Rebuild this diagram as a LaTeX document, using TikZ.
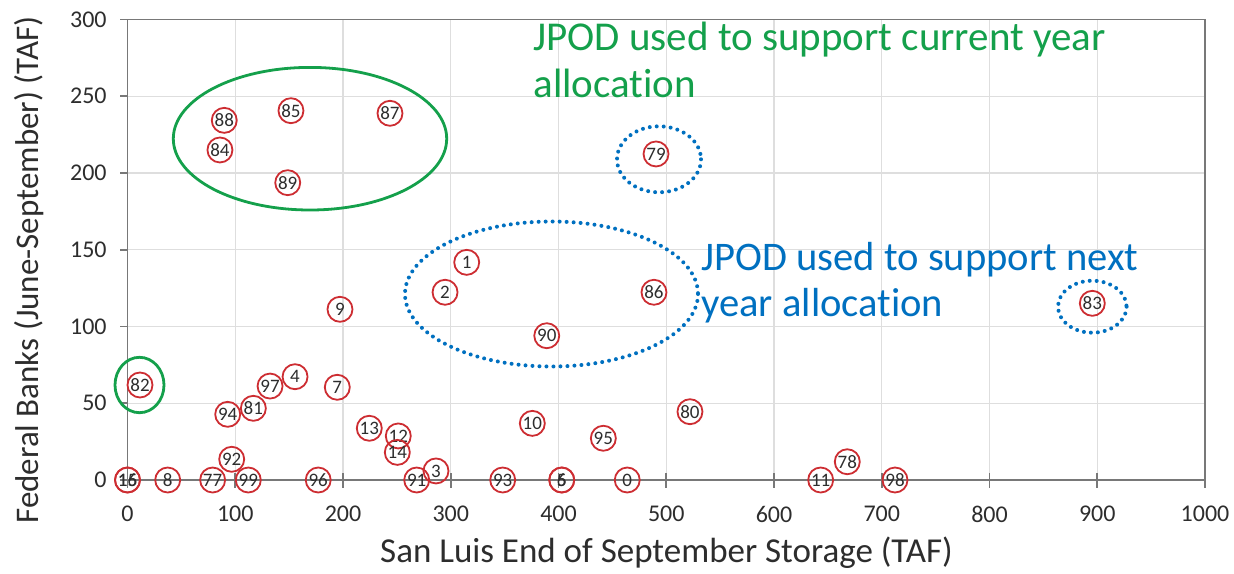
\documentclass[tikz,border=0pt]{standalone}
\usepackage{fontspec}
\setmainfont[Ligatures={NoCommon}]{Carlito}
\definecolor{mred}{RGB}{205,45,50}
\definecolor{mgreen}{RGB}{20,160,75}
\definecolor{mblue}{RGB}{0,112,192}
\definecolor{gridc}{RGB}{222,222,222}
\definecolor{axisc}{RGB}{120,120,120}
\definecolor{dtext}{RGB}{45,45,45}
\begin{document}
\begin{tikzpicture}[x=0.5pt,y=-0.5pt,
  gridline/.style={draw=gridc, line width=0.6pt},
  axisline/.style={draw=axisc, line width=0.9pt},
  pt/.style={circle, draw=mred, line width=0.9pt, minimum size=12.5pt, inner sep=0pt,
    font=\fontsize{9.5}{12}\selectfont, text=dtext},
  ticklabel/.style={inner sep=0pt, font=\fontsize{12}{14}\selectfont, text=dtext},
  axistitle/.style={inner sep=0pt, font=\fontsize{17.5}{20}\selectfont, text=dtext},
  ytitlefont/.style={inner sep=0pt, font=\fontsize{16.5}{20}\selectfont, text=dtext},
  gtext/.style={inner sep=0pt, anchor=base west, font=\fontsize{20.5}{24}\selectfont, text=mgreen},
  btext/.style={inner sep=0pt, anchor=base west, font=\fontsize{20.3}{24}\selectfont, text=mblue},
  gring/.style={draw=mgreen, line width=1.4pt},
  bring/.style={draw=mblue, line width=2pt, line cap=round, dash pattern=on 0pt off 3.5pt}]
\useasboundingbox (0,0) rectangle (1234,573);
% grid
\foreach \i in {1,...,9}
  \draw[gridline] ({127.5+107.75*\i},19.5) -- ({127.5+107.75*\i},480);
\foreach \j in {1,...,5}
  \draw[gridline] (127.5,{480-76.75*\j}) -- (1205,{480-76.75*\j});
% frame and axes
\draw[axisline] (120,19.5) -- (1205,19.5) -- (1205,488);
\draw[axisline] (127.5,19.5) -- (127.5,480) -- (1205,480);
\foreach \j in {0,...,6}
  \draw[axisline] (120,{480-76.75*\j}) -- (127.5,{480-76.75*\j});
\foreach \i in {0,...,10}
  \draw[axisline] ({127.5+107.75*\i},473) -- ({127.5+107.75*\i},488);
% tick labels
\foreach \j/\v in {0/0,1/50,2/100,3/150,4/200,5/250,6/300}
  \node[ticklabel, anchor=east] (yl\j) at (107,{480-76.75*\j}) {\v};
\foreach \i/\v in {0/0,1/100,2/200,3/300,4/400,5/500,6/600,7/700,8/800,9/900,10/1000}
  \node[ticklabel] (xl\i) at ({127.5+107.75*\i},514) {\v};
% axis titles
\node[axistitle, anchor=base] (xtitle) at (666.5,562) {San Luis End of September Storage (TAF)};
\node[ytitlefont, rotate=90] (ytitle) at (29.5,270) {Federal Banks (June-September) (TAF)};
% data points
\begin{scope}[shift={(127.5,480)}]
\begin{scope}[x=0.53875pt, y=0.7675pt]
\foreach \n/\px/\py in {88/89.8/234.3, 85/151.7/240.6, 87/243.6/238.9, 84/85.8/215.0,
    89/148.7/193.7, 79/490.5/212.4, 1/314.8/141.8, 2/294.7/122.3, 86/488.6/122.3,
    90/389.1/94.0, 83/895.4/115.1, 9/197.2/111.2, 82/11.6/61.9, 97/132.3/61.2,
    4/155.5/67.3, 7/194.7/60.4, 94/93.0/42.8, 81/116.8/46.7, 13/224.4/33.7,
    12/251.3/28.7, 14/250.4/18.0, 92/96.7/13.5, 10/375.7/36.9, 95/441.6/27.2,
    80/522.0/44.5, 3/286.3/5.9, 78/668.0/11.9,
    15/0/0, 16/0/0, 8/37.3/0, 77/79.0/0, 99/112.1/0, 96/177.0/0, 91/268.4/0,
    93/348.2/0, 5/403.0/0, 6/403.0/0, 0/463.8/0, 11/643.3/0, 98/712.3/0}
  \node[pt] (p\n) at (\px,\py) {\n};
\end{scope}
\end{scope}
% annotation rings
\draw[gring] (310,138.7) ellipse [x radius=136.7, y radius=71.3];
\draw[gring] (139.5,385) ellipse [x radius=24.5, y radius=27.7];
\draw[bring] (551.5,294) ellipse [x radius=146.5, y radius=72.5];
\draw[bring] (659,159.3) ellipse [x radius=42, y radius=33];
\draw[bring] (1092.3,306.7) ellipse [x radius=34.3, y radius=26];
% annotation texts
\node[gtext] (g1) at (533,50) {JPOD used to support current year};
\node[gtext] (g2) at (533,97) {allocation};
\node[btext] (b1) at (701,270) {JPOD used to support next};
\node[btext] (b2) at (701,316) {year allocation};
\end{tikzpicture}
\end{document}
